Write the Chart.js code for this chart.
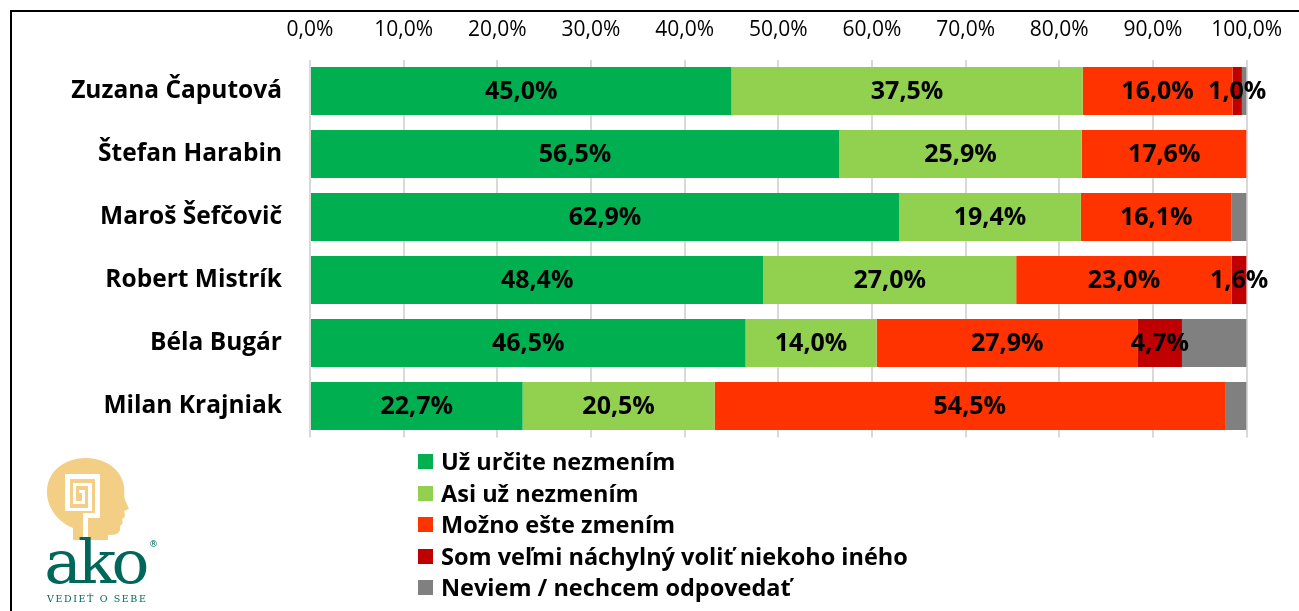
<!DOCTYPE html>
<html>
<head>
<meta charset="utf-8">
<script src="https://cdn.jsdelivr.net/npm/chart.js@4.4.1/dist/chart.umd.min.js"></script>
<style>
  html, body { margin: 0; padding: 0; background: #fff; }
  #wrap { position: relative; width: 1299px; height: 611px; overflow: hidden; }
  #frame { position: absolute; left: 10px; top: 10px; width: 1300px; height: 620px; border-left: 2px solid #000; border-top: 2px solid #000; box-sizing: border-box; }
  canvas { position: absolute; left: 0; top: 0; }
  #legend { position: absolute; left: 418px; top: 446px; font-family: "Open Sans", sans-serif; font-weight: 700; font-size: 23.5px; color: #000; }
  .li { height: 31.5px; line-height: 31.5px; display: flex; align-items: center; white-space: nowrap; }
  .sw { width: 15px; height: 15px; margin-right: 8px; flex: none; }
  #logo { position: absolute; left: 38px; top: 452px; }
</style>
</head>
<body>
<div id="wrap">
  <div id="frame"></div>
  <canvas id="c" width="1299" height="611"></canvas>
  <div id="legend"></div>
  <svg id="logo" width="130" height="155" viewBox="0 0 130 155">
    <path d="M35 88 L35 76 C20 70 9 56 9 40 C9 18 28 6 48 6 C70 6 84 20 86 34 C87 40 85 44 88 50 L91 57 L86 59 C87 62 88 65 84 67 C85 70 85 72 82 74 C83 80 80 83 72 83 L70 83 L70 88 Z" fill="#F3CF85"/>
    <path d="M27 22 L62 22 L62 66 L50 66 L50 88 L45 88 L45 61 L57 61 L57 27 L32 27 L32 56 L50 56 L50 34 L38 34 L38 49 L44 49 L44 41 L41 41 L41 38 L47 38 L47 52 L35 52 L35 31 L54 31 L54 59 L27 59 Z" fill="#fff"/>
    <text x="6" y="131" font-family="'DejaVu Serif', serif" font-size="60" fill="#00685A" letter-spacing="-4" transform="scale(1.05,1)">ako</text>
    <text x="111" y="95" font-family="'DejaVu Sans', sans-serif" font-size="9" fill="#00685A">®</text>
    <text x="9" y="150" font-family="'DejaVu Serif', serif" font-size="9.5" fill="#00685A" letter-spacing="1.6">VEDIEŤ O SEBE</text>
  </svg>
</div>
<script>
const categories = ['Zuzana Čaputová', 'Štefan Harabin', 'Maroš Šefčovič', 'Robert Mistrík', 'Béla Bugár', 'Milan Krajniak'];
const seriesNames = ['Už určite nezmením', 'Asi už nezmením', 'Možno ešte zmením', 'Som veľmi náchylný voliť niekoho iného', 'Neviem / nechcem odpovedať'];
const seriesColors = ['#00B050', '#92D050', '#FF3300', '#C00000', '#808080'];
const urciteNezmenim = [45.0, 56.5, 62.9, 48.4, 46.5, 22.7];
const asiNezmenim = [37.5, 25.9, 19.4, 27.0, 14.0, 20.5];
const moznoZmenim = [16.0, 17.6, 16.1, 23.0, 27.9, 54.5];
const nachylnyIneho = [1.0, 0, 0, 1.6, 4.7, 0];
const neviem = [0.5, 0, 1.6, 0, 6.9, 2.3];
const tickValues = [0, 10, 20, 30, 40, 50, 60, 70, 80, 90, 100];
const labeledSeries = [true, true, true, true, false];

const allSeries = [urciteNezmenim, asiNezmenim, moznoZmenim, nachylnyIneho, neviem];
const fmt = v => v.toFixed(1).replace('.', ',') + '%';

const datasets = allSeries.map((d, i) => ({
  label: seriesNames[i],
  data: d,
  backgroundColor: seriesColors[i],
  borderWidth: 0,
  barPercentage: 0.76,
  categoryPercentage: 1.0
}));

const labelPlugin = {
  id: 'barLabels',
  afterDatasetsDraw(chart) {
    const ctx = chart.ctx;
    ctx.save();
    ctx.font = 'bold 25px "Open Sans"';
    ctx.fillStyle = '#000';
    ctx.textAlign = 'center';
    ctx.textBaseline = 'middle';
    chart.data.datasets.forEach((ds, i) => {
      if (!labeledSeries[i]) return;
      const meta = chart.getDatasetMeta(i);
      meta.data.forEach((el, j) => {
        const v = ds.data[j];
        if (!v) return;
        const cx = (el.x + el.base) / 2;
        ctx.fillText(fmt(v), cx, el.y + 1);
      });
    });
    ctx.restore();
  }
};

new Chart(document.getElementById('c'), {
  type: 'bar',
  data: { labels: categories, datasets },
  options: {
    indexAxis: 'y',
    responsive: false,
    animation: false,
    layout: { padding: { left: 0, right: 52, top: 0, bottom: 173.5 } },
    plugins: { legend: { display: false }, tooltip: { enabled: false } },
    scales: {
      x: {
        position: 'top',
        stacked: true,
        min: 0,
        max: 100,
        afterFit(s) { s.height = 59.5; },
        afterBuildTicks(s) { s.ticks = tickValues.map(v => ({ value: v })); },
        ticks: {
          callback: v => fmt(v),
          font: { family: 'Open Sans', size: 21 },
          color: '#000',
          padding: 17,
          maxRotation: 0
        },
        grid: { color: '#D9D9D9', lineWidth: 2, drawTicks: false },
        border: { display: false }
      },
      y: {
        stacked: true,
        afterFit(s) { s.width = 310; },
        ticks: {
          font: { family: 'Open Sans', size: 24.5, weight: 'bold' },
          color: '#000',
          padding: 28
        },
        grid: { display: false, drawTicks: false },
        border: { display: false }
      }
    }
  },
  plugins: [labelPlugin]
});

const legend = document.getElementById('legend');
seriesNames.forEach((n, i) => {
  const row = document.createElement('div');
  row.className = 'li';
  const sw = document.createElement('span');
  sw.className = 'sw';
  sw.style.background = seriesColors[i];
  const t = document.createElement('span');
  t.textContent = n;
  row.appendChild(sw);
  row.appendChild(t);
  legend.appendChild(row);
});
</script>
</body>
</html>
